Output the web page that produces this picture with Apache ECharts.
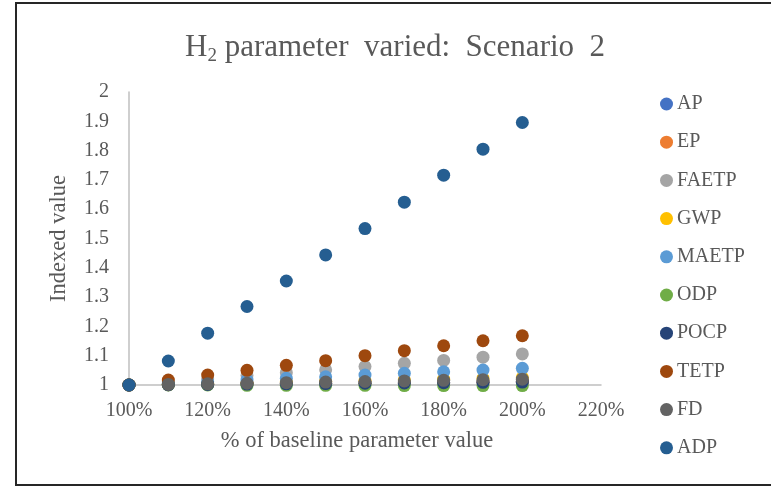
<!DOCTYPE html>
<html>
<head>
<meta charset="utf-8">
<style>
  html, body { margin: 0; padding: 0; background: #fff; }
  #chart { width: 771px; height: 486px; }
</style>
<script src="https://cdn.jsdelivr.net/npm/echarts@6/dist/echarts.min.js"></script>
</head>
<body>
<div id="chart"></div>
<script>
// Percent of baseline H2 parameter value
const xPercent = [100, 110, 120, 130, 140, 150, 160, 170, 180, 190, 200];

// Indexed impact values per category
const AP    = [1, 1.001, 1.002, 1.003, 1.004, 1.005, 1.006, 1.007, 1.008, 1.009, 1.010];
const EP    = [1, 1.001, 1.002, 1.003, 1.004, 1.005, 1.006, 1.007, 1.008, 1.009, 1.010];
const FAETP = [1, 1.011, 1.021, 1.032, 1.042, 1.052, 1.063, 1.074, 1.084, 1.095, 1.106];
const GWP   = [1, 1.0025, 1.005, 1.0075, 1.010, 1.0125, 1.015, 1.0175, 1.020, 1.0225, 1.025];
const MAETP = [1, 1.006, 1.011, 1.017, 1.023, 1.028, 1.034, 1.040, 1.045, 1.051, 1.057];
const ODP   = [1, 1, 1, 0.999, 0.999, 0.999, 0.999, 0.998, 0.998, 0.998, 0.998];
const POCP  = [1, 1.001, 1.002, 1.003, 1.004, 1.005, 1.006, 1.007, 1.008, 1.009, 1.010];
const TETP  = [1, 1.017, 1.034, 1.050, 1.067, 1.083, 1.100, 1.117, 1.134, 1.151, 1.168];
const FD    = [1, 1.002, 1.004, 1.006, 1.008, 1.010, 1.012, 1.014, 1.016, 1.018, 1.020];
const ADP   = [1, 1.082, 1.177, 1.268, 1.355, 1.444, 1.534, 1.624, 1.716, 1.805, 1.896];

const seriesDefs = [
  { name: 'AP',    data: AP,    color: '#4472C4' },
  { name: 'EP',    data: EP,    color: '#ED7D31' },
  { name: 'FAETP', data: FAETP, color: '#A5A5A5' },
  { name: 'GWP',   data: GWP,   color: '#FFC000' },
  { name: 'MAETP', data: MAETP, color: '#5B9BD5' },
  { name: 'ODP',   data: ODP,   color: '#70AD47' },
  { name: 'POCP',  data: POCP,  color: '#264478' },
  { name: 'TETP',  data: TETP,  color: '#9E480E' },
  { name: 'FD',    data: FD,    color: '#636363' },
  { name: 'ADP',   data: ADP,   color: '#255E91' }
];

const FONT = '"Liberation Serif", "Times New Roman", serif';
const TEXT = '#595959';

const chart = echarts.init(document.getElementById('chart'), null, { renderer: 'canvas' });

chart.setOption({
  animation: false,
  backgroundColor: '#fff',
  textStyle: { fontFamily: FONT, color: TEXT },
  graphic: [{
    type: 'rect',
    shape: { x: 16, y: 3, width: 800, height: 482 },
    style: { fill: 'none', stroke: '#262626', lineWidth: 2 },
    silent: true
  }],
  title: {
    text: '{a|H}{s|2}{a| parameter  varied:  Scenario  2}',
    left: 180,
    top: 25,
    textStyle: {
      fontWeight: 'normal',
      rich: {
        a: { fontFamily: FONT, fontSize: 31, fontWeight: 'normal', color: TEXT, lineHeight: 36, verticalAlign: 'middle' },
        s: { fontFamily: FONT, fontSize: 19, fontWeight: 'normal', color: TEXT, lineHeight: 19, padding: [17, 0, 0, 0], verticalAlign: 'bottom' }
      }
    }
  },
  grid: { left: 129, top: 92, right: 170, bottom: 101, containLabel: false },
  legend: {
    orient: 'vertical',
    left: 655,
    top: 89,
    itemWidth: 13,
    itemHeight: 13,
    itemGap: 18.2,
    icon: 'circle',
    textStyle: { fontFamily: FONT, fontSize: 20, color: TEXT, lineHeight: 20, padding: [0, 0, 0, -1] },
    data: seriesDefs.map(s => s.name)
  },
  xAxis: {
    type: 'value',
    min: 100,
    max: 220,
    interval: 20,
    name: '% of baseline parameter value',
    nameLocation: 'middle',
    nameGap: 45,
    nameTextStyle: { fontFamily: FONT, fontSize: 22.5, color: TEXT, padding: [0, 16, 0, 0] },
    axisLine: { show: true, onZero: false, lineStyle: { color: '#BFBFBF', width: 1.5 } },
    axisTick: { show: false },
    splitLine: { show: false },
    axisLabel: { formatter: '{value}%', fontFamily: FONT, fontSize: 20, color: TEXT, margin: 16 }
  },
  yAxis: {
    type: 'value',
    min: 1,
    max: 2,
    interval: 0.1,
    name: 'Indexed value',
    nameLocation: 'middle',
    nameGap: 58,
    nameTextStyle: { fontFamily: FONT, fontSize: 22.5, color: TEXT },
    axisLine: { show: true, lineStyle: { color: '#BFBFBF', width: 1.5 } },
    axisTick: { show: false },
    splitLine: { show: false },
    axisLabel: {
      fontFamily: FONT, fontSize: 20, color: TEXT, margin: 20,
      formatter: v => String(Math.round(v * 10) / 10)
    }
  },
  series: seriesDefs.map(s => ({
    name: s.name,
    type: 'scatter',
    clip: false,
    symbol: 'circle',
    symbolSize: 13,
    itemStyle: { color: s.color, opacity: 1 },
    data: xPercent.map((x, i) => [x, s.data[i]])
  }))
});
</script>
</body>
</html>
